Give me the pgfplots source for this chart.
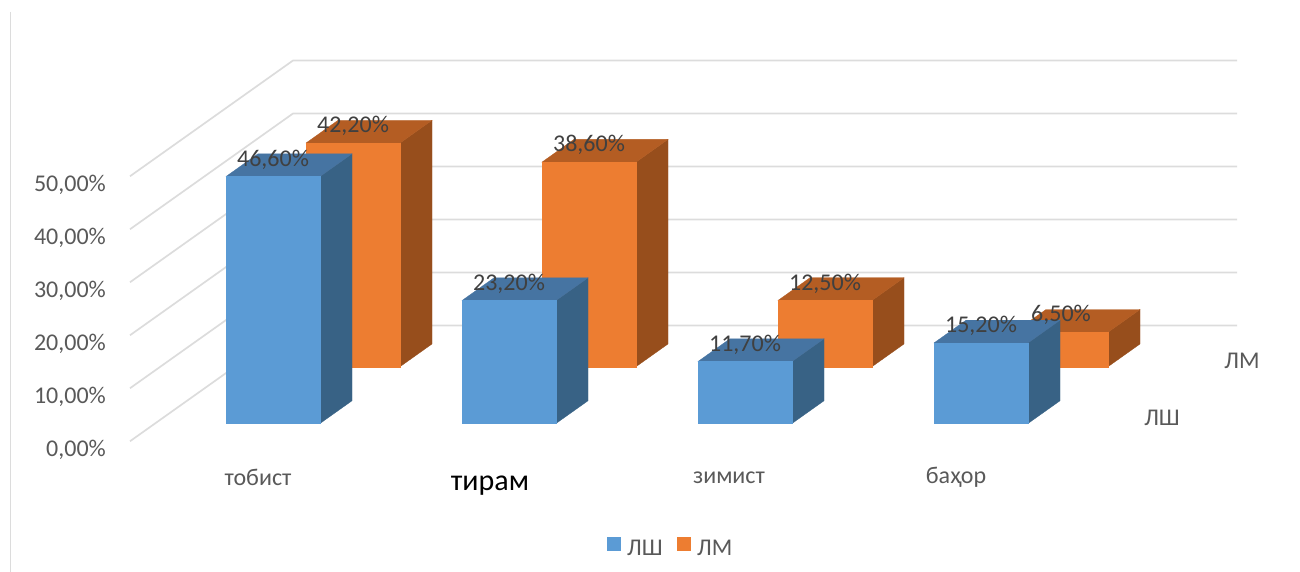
\documentclass[border=0pt]{standalone}
\usepackage{fontspec}
\setmainfont{Carlito}
\usepackage{pgfplots}
\pgfplotsset{compat=1.18}
\definecolor{lshFront}{HTML}{5B9BD5}
\definecolor{lshTop}{HTML}{4674A2}
\definecolor{lshSide}{HTML}{386285}
\definecolor{lmFront}{HTML}{ED7D31}
\definecolor{lmTop}{HTML}{B45D23}
\definecolor{lmSide}{HTML}{974E1C}
\definecolor{gridgray}{HTML}{DCDCDC}
\definecolor{axistext}{HTML}{595959}
\definecolor{valuetext}{HTML}{404040}

% A cuboid column: left edge x, depth y, height z; width 94 and depth 32
\newcommand{\column}[6]{%
  \pgfmathsetmacro{\xr}{#1+94}%
  \pgfmathsetmacro{\yb}{#2+32}%
  \addplot3[forget plot,fill=#6,draw=#6,line width=0.3pt] coordinates
    {(\xr,#2,0) (\xr,\yb,0) (\xr,\yb,#3) (\xr,#2,#3)} -- cycle;
  \addplot3[forget plot,fill=#5,draw=#5,line width=0.3pt] coordinates
    {(#1,#2,#3) (\xr,#2,#3) (\xr,\yb,#3) (#1,\yb,#3)} -- cycle;
  \addplot3[forget plot,fill=#4,draw=#4,line width=0.3pt] coordinates
    {(#1,#2,0) (\xr,#2,0) (\xr,#2,#3) (#1,#2,#3)} -- cycle;
}
% Value printed above a column's top face
\newcommand{\valuelabel}[3]{%
  \pgfmathsetmacro{\xc}{#1+47}%
  \edef\temp{\noexpand\node[font=\noexpand\fontsize{24}{28}\noexpand\selectfont,text=valuetext,inner sep=0pt,yshift=17pt]
    at (axis cs:\xc,#2,#3) {\noexpand\pgfmathprintnumber[fixed,fixed zerofill,precision=2,use comma,assume math mode=true]{#3}\noexpand\%};}%
  \temp
}

\begin{document}
\begin{tikzpicture}[x=1pt,y=1pt]
\path[use as bounding box] (0,0) rectangle (1300,572);
\draw[gridgray,line width=1.5pt] (10.5,560) -- (10.5,0);
\begin{axis}[
  at={(0pt,148.5pt)}, anchor=origin,
  x={(1pt,0pt)}, y={(1pt,0.71pt)}, z={(0pt,5.3pt)},
  xmin=0, xmax=1300, ymin=-30, ymax=140, zmin=-20, zmax=60,
  hide axis, clip=false,
  legend image code/.code={\fill[#1] (0pt,-2pt) rectangle (14.5pt,12pt);},
  legend columns=2,
  legend style={at={(0.5,0)},anchor=center,draw=none,fill=none,xshift=-34.5pt,yshift=3pt,
    font=\fontsize{24}{28}\selectfont,text=axistext,
    /tikz/every even column/.append style={column sep=12pt},
    /tikz/every odd column/.append style={column sep=4pt},
    nodes={inner sep=2pt}},
]
\addlegendimage{fill=lshFront,draw=none}
\addlegendimage{fill=lmFront,draw=none}

% Walls of the chart: one grid line for each tick, along side and back
\pgfplotsinvokeforeach{0,10,20,30,40,50}{
  \addplot3[forget plot,gridgray,line width=1.7pt] coordinates
    {(155,-25,#1) (155,138,#1) (1099,138,#1)};
  \node[font=\fontsize{24}{28}\selectfont,text=axistext,anchor=east,inner sep=0pt,
        xshift=-24pt,yshift=-8.5pt] at (axis cs:155,-25,#1)
    {\pgfmathprintnumber[fixed,fixed zerofill,precision=2,use comma,assume math mode=true]{#1}\%};
}

% Back row
\column{226}{80}{42.2}{lmFront}{lmTop}{lmSide}
\column{462}{80}{38.6}{lmFront}{lmTop}{lmSide}
\column{698}{80}{12.5}{lmFront}{lmTop}{lmSide}
\column{934}{80}{6.5}{lmFront}{lmTop}{lmSide}
% Front row
\column{226}{0}{46.6}{lshFront}{lshTop}{lshSide}
\column{462}{0}{23.2}{lshFront}{lshTop}{lshSide}
\column{698}{0}{11.7}{lshFront}{lshTop}{lshSide}
\column{934}{0}{15.2}{lshFront}{lshTop}{lshSide}

\valuelabel{226}{80}{42.2}
\valuelabel{462}{80}{38.6}
\valuelabel{698}{80}{12.5}
\valuelabel{934}{80}{6.5}
\valuelabel{226}{0}{46.6}
\valuelabel{462}{0}{23.2}
\valuelabel{698}{0}{11.7}
\valuelabel{934}{0}{15.2}

% Season names under the front row
\node[font=\fontsize{24}{28}\selectfont,text=axistext,inner sep=0pt] at (axis cs:258,0,-10.2) {тобист};
\node[font=\fontsize{30}{34}\selectfont,text=black,inner sep=0pt] at (axis cs:490,0,-11.7) {тирам};
\node[font=\fontsize{24}{28}\selectfont,text=axistext,inner sep=0pt] at (axis cs:729,0,-10.2) {зимист};
\node[font=\fontsize{24}{28}\selectfont,text=axistext,inner sep=0pt] at (axis cs:956,0,-10.2) {баҳор};

% Row names at the right-hand end of each row
\node[font=\fontsize{24}{28}\selectfont,text=axistext,inner sep=0pt] at (axis cs:1162,0,1.1) {ЛШ};
\node[font=\fontsize{24}{28}\selectfont,text=axistext,inner sep=0pt] at (axis cs:1162,80,1.1) {ЛМ};

\legend{ЛШ,ЛМ}
\end{axis}
\end{tikzpicture}
\end{document}
